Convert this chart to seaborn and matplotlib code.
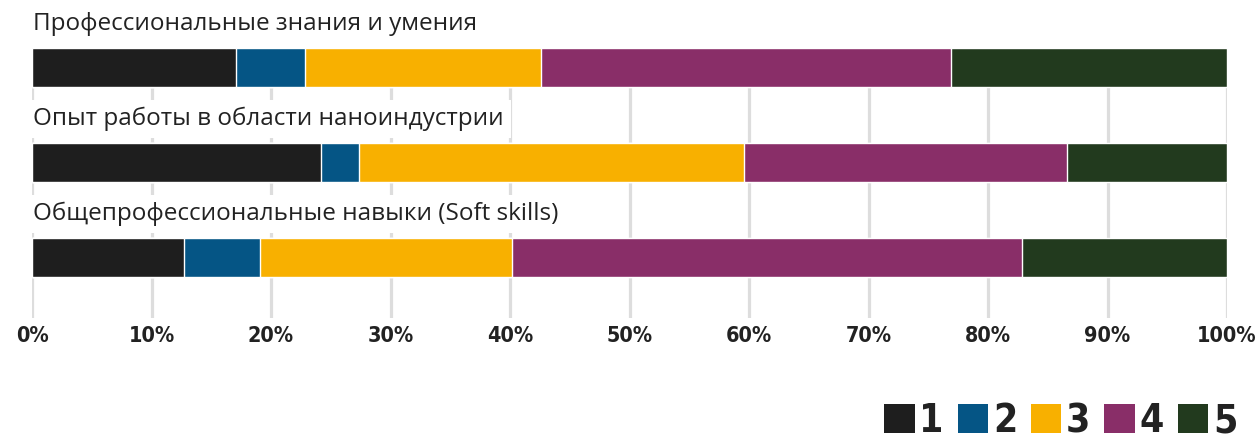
import numpy as np
import pandas as pd
import seaborn as sns
import matplotlib.pyplot as plt
from matplotlib.patches import Patch

# Survey answers (share of respondents, %) for scores 1..5
categories = ["Профессиональные знания и умения",
              "Опыт работы в области наноиндустрии",
              "Общепрофессиональные навыки (Soft skills)"]
scores = ["1", "2", "3", "4", "5"]
score_1 = [17.1, 24.2, 12.7]
score_2 = [5.7, 3.2, 6.4]
score_3 = [19.8, 32.2, 21.1]
score_4 = [34.3, 27.0, 42.6]
score_5 = [23.1, 13.4, 17.2]
tick_values = [0, 10, 20, 30, 40, 50, 60, 70, 80, 90, 100]

colors = ["#1e1e1e", "#055585", "#f8b000", "#892e68", "#223a1e"]


def main():
    sns.set_style("white")
    plt.rcParams["font.family"] = ["Open Sans", "DejaVu Sans"]

    df = pd.DataFrame({"category": categories, "1": score_1, "2": score_2,
                       "3": score_3, "4": score_4, "5": score_5})
    cum = df[scores].cumsum(axis=1)
    cum["category"] = df["category"]

    fig = plt.figure(figsize=(12.56, 4.40), dpi=100)
    ax = fig.add_axes([0.0255, 0.277, 0.9515, 0.614])

    # Stacked bars: draw cumulative totals from the largest down
    for k in range(len(scores) - 1, -1, -1):
        sns.barplot(data=cum, x=scores[k], y="category", orient="h",
                    color=colors[k], width=0.41, saturation=1, ax=ax,
                    zorder=3)

    ax.set_xlim(0, 100)
    ax.set_ylim(2.637, -0.205)
    ax.set_xticks(tick_values)
    ax.set_xticklabels(["{}%".format(v) for v in tick_values],
                       family="DejaVu Sans", fontstretch="condensed",
                       fontweight="bold", fontsize=15.5, color="#222222")
    ax.set_yticks([])
    ax.set(xlabel=None, ylabel=None)
    ax.tick_params(axis="x", length=0, pad=6)
    ax.grid(axis="x", color="#dddddd", linewidth=2.3, zorder=0)
    ax.set_axisbelow(True)
    for s in ax.spines.values():
        s.set_visible(False)

    for i, name in enumerate(categories):
        ax.text(0.1, i - 0.46, name, ha="left", va="center", fontsize=17.5,
                color="#222222", zorder=4,
                bbox=dict(facecolor="white", edgecolor="none", pad=5))

    handles = [Patch(facecolor=c, edgecolor="none") for c in colors]
    fig.legend(handles, scores, loc="lower right",
               bbox_to_anchor=(0.985, 0.0), ncol=5, frameon=False,
               prop=dict(family="DejaVu Sans", stretch="condensed",
                         weight="bold", size=28),
               labelcolor="#222222", handlelength=0.78, handleheight=0.78,
               handletextpad=0.12, columnspacing=0.36, borderpad=0,
               borderaxespad=0)

    fig.savefig("out.png", dpi=100)


if __name__ == "__main__":
    main()
